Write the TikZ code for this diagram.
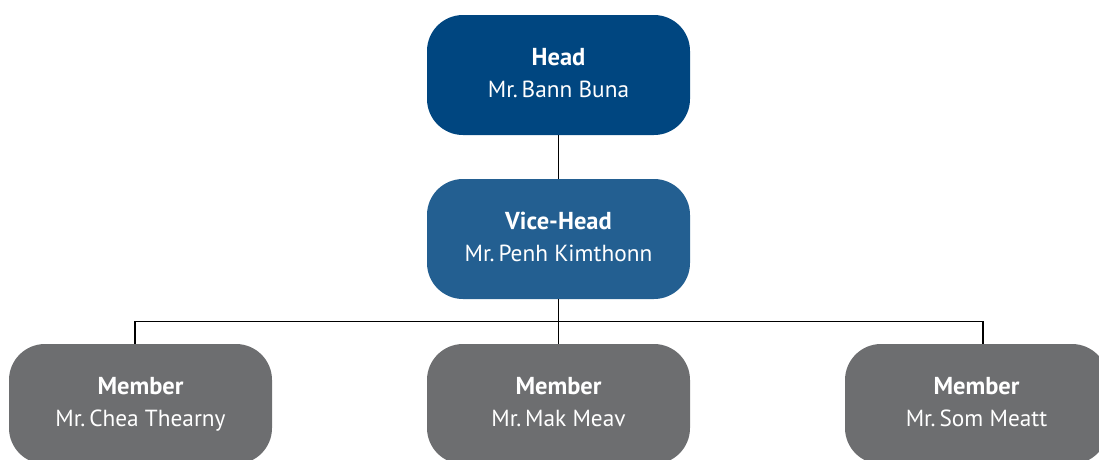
\documentclass[tikz,border=0pt]{standalone}
\usepackage{fontspec}
\setmainfont{PT Sans}
\usetikzlibrary{calc, positioning}
\definecolor{headblue}{RGB}{0,70,128}
\definecolor{viceblue}{RGB}{35,95,145}
\definecolor{membergray}{RGB}{109,110,112}
\newcommand{\rolename}[1]{{\fontsize{24.5}{32}\selectfont\bfseries #1}\strut}

\begin{document}
\begin{tikzpicture}[x=1pt, y=-1pt,
    box/.style={rounded corners=36pt, minimum width=263pt, minimum height=120pt, inner sep=0pt, text=white, align=center, font=\fontsize{23.3}{32}\selectfont},
    link/.style={black, line width=1.2pt}]
  \useasboundingbox (0, 0) rectangle (1099, 459);
  \clip (0, 0) rectangle (1099, 459);
  \node[box, fill=headblue] (head) at (558.5, 75) {\rolename{Head}\\Mr.\,Bann Buna\strut};
  \node[box, fill=viceblue] (vice) at (558.5, 239) {\rolename{Vice-Head}\\Mr.\,Penh Kimthonn\strut};
  \node[box, fill=membergray] (chea) at (140.5, 404) {\rolename{Member}\\Mr.\,Chea Thearny\strut};
  \node[box, fill=membergray] (mak) at (558.5, 404) {\rolename{Member}\\Mr.\,Mak Meav\strut};
  \node[box, fill=membergray] (som) at (976.5, 404) {\rolename{Member}\\Mr.\,Som Meatt\strut};
  \coordinate (bus) at ($(vice.south)!0.5!(mak.north)$);
  % connectors
  \draw[link] (head.south) -- (vice.north);
  \draw[link] (vice.south) -- (mak.north);
  \draw[link] ([xshift=-5.5pt]chea.north) |- (bus) -| ([xshift=6.5pt]som.north);
\end{tikzpicture}
\end{document}
